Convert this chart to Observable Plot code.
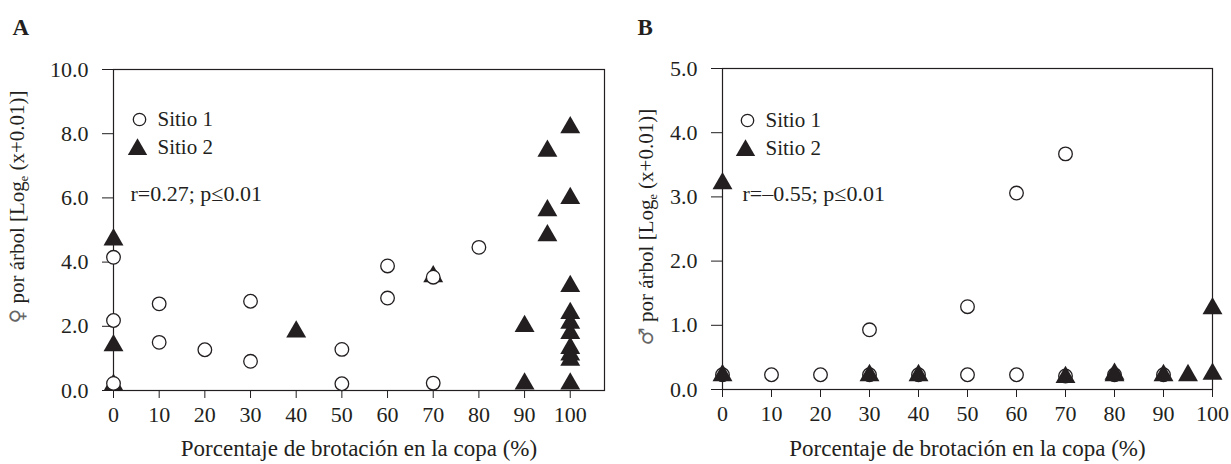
<!DOCTYPE html>
<html>
<head>
<meta charset="utf-8">
<script src="https://cdn.jsdelivr.net/npm/d3@7"></script>
<script src="https://cdn.jsdelivr.net/npm/@observablehq/plot@0.6"></script>
<style>
  html, body { margin: 0; padding: 0; background: #fff; }
  #wrap { position: relative; width: 1231px; height: 464px; overflow: hidden; }
  #wrap > div { position: absolute; top: 0; }
</style>
</head>
<body>
<div id="wrap"><div id="pa" style="left:0"></div><div id="pb" style="left:615px"></div></div>
<script>
// ---------- Data ----------
const xTicks = [0, 10, 20, 30, 40, 50, 60, 70, 80, 90, 100];
const yTicksA = [0, 2, 4, 6, 8, 10];
const yTicksB = [0, 1, 2, 3, 4, 5];

// Panel A: females per tree
const a1x = [0, 0, 0, 10, 10, 20, 30, 30, 50, 50, 60, 60, 70, 70, 80];
const a1y = [4.15, 2.18, 0.22, 2.70, 1.50, 1.27, 2.78, 0.91, 1.28, 0.21, 3.88, 2.88, 3.53, 0.23, 4.46];
const a2x = [0, 0, 0, 40, 70, 90, 90, 95, 95, 95, 100, 100, 100, 100, 100, 100, 100, 100, 100, 100];
const a2y = [4.70, 1.40, 0.17, 1.83, 3.55, 2.00, 0.21, 7.46, 5.61, 4.83, 8.19, 5.99, 3.25, 2.41, 2.10, 1.78, 1.32, 1.11, 0.95, 0.21];

// Panel B: males per tree
const b1x = [0, 10, 20, 30, 30, 40, 50, 50, 60, 60, 70, 70, 80, 90];
const b1y = [0.23, 0.23, 0.23, 0.93, 0.23, 0.23, 1.29, 0.23, 3.06, 0.23, 3.67, 0.21, 0.23, 0.23];
const b2x = [0, 0, 30, 40, 70, 80, 80, 90, 95, 100, 100];
const b2y = [3.21, 0.22, 0.22, 0.22, 0.19, 0.22, 0.24, 0.22, 0.22, 1.26, 0.24];

const seriesNames = ["Sitio 1", "Sitio 2"];
const xLabel = "Porcentaje de brotación en la copa (%)";
// y title parts: symbol, text, subscript, text
const yLabelA = ["♀", " por árbol [Log", "e", " (x+0.01)]"];
const yLabelB = ["♂", " por árbol [Log", "e", " (x+0.01)]"];
const statA = "r=0.27; p≤0.01";
const statB = "r=–0.55; p≤0.01";

// ---------- Drawing ----------
const ink = "#231f20";
const font = "'Liberation Serif', 'DejaVu Serif', serif";
const pts = (xs, ys) => xs.map((x, i) => ({x, y: ys[i]}));

function panel(o) {
  const s1 = Plot.dot(pts(o.s1x, o.s1y), {x: "x", y: "y", r: 6.8, fill: "white", stroke: ink, strokeWidth: 1.3});
  const s2 = Plot.dot(pts(o.s2x, o.s2y), {x: "x", y: "y", symbol: "triangle", r: 7.4, fill: ink, stroke: "none"});
  const points = o.circlesOnTop ? [s2, s1] : [s1, s2];
  const yTitle = o.yLabel.join("");
  const svg = Plot.plot({
    width: o.width, height: 464,
    marginLeft: o.ml, marginRight: o.mr, marginTop: o.mt, marginBottom: o.mb,
    style: {fontFamily: font, fontSize: "22px", color: ink, background: "transparent", overflow: "visible"},
    x: {domain: o.xDomain, ticks: xTicks, tickSize: 8, tickPadding: 8, tickFormat: d => String(d), label: null},
    y: {domain: o.yDomain, ticks: o.yTicks, tickSize: 11, tickPadding: 14, tickFormat: d => d.toFixed(1), label: null},
    marks: [
      Plot.frame({stroke: ink, strokeWidth: 1.2}),
      ...points,
      // legend
      Plot.dot([0], {frameAnchor: "top-left", dx: o.lx, dy: o.ly, r: 6.2, fill: "white", stroke: ink, strokeWidth: 1.3}),
      Plot.dot([0], {frameAnchor: "top-left", dx: o.lx - 2, dy: o.ly + 30, r: 7.2, symbol: "triangle", fill: ink}),
      Plot.text([seriesNames[0]], {text: d => d, frameAnchor: "top-left", dx: o.lx + 18, dy: o.ly, textAnchor: "start", lineAnchor: "middle", fontSize: 21, fill: ink}),
      Plot.text([seriesNames[1]], {text: d => d, frameAnchor: "top-left", dx: o.lx + 18, dy: o.ly + 28, textAnchor: "start", lineAnchor: "middle", fontSize: 21, fill: ink}),
      Plot.text([o.stat], {text: d => d, frameAnchor: "top-left", dx: o.sx, dy: o.sy, textAnchor: "start", lineAnchor: "middle", fontSize: 22, fill: ink}),
      // axis titles
      Plot.text([xLabel], {text: d => d, frameAnchor: "bottom", dy: o.xtDy, textAnchor: "middle", lineAnchor: "middle", fontSize: 23, fill: ink}),
      Plot.text([yTitle], {text: d => d, frameAnchor: "left", rotate: -90, dx: o.ytDx, dy: o.ytDy, textAnchor: "middle", lineAnchor: "middle", fontSize: 21, fill: ink}),
      // panel letter
      Plot.text([o.letter], {text: d => d, frameAnchor: "top-left", dx: o.pdx, dy: o.pdy, textAnchor: "start", lineAnchor: "middle", fontSize: 23, fontWeight: "bold", fill: ink})
    ]
  });
  // rich formatting of the y title: sex symbol and subscript "e"
  d3.select(svg).selectAll("text").filter(function () { return this.textContent === yTitle; }).each(function () {
    const t = d3.select(this);
    t.text(null);
    t.append("tspan").attr("font-family", "DejaVu Sans").attr("font-size", 20).attr("fill", "#666").text(o.yLabel[0]);
    t.append("tspan").text(o.yLabel[1]);
    t.append("tspan").attr("font-size", 12).attr("dy", 4).text(o.yLabel[2]);
    t.append("tspan").attr("dy", -4).text(o.yLabel[3]);
  });
  return svg;
}

document.getElementById("pa").append(panel({
  width: 615, ml: 113, mr: 11, mt: 69, mb: 74,
  xDomain: [0, 107.5], yDomain: [0, 10], yTicks: yTicksA,
  s1x: a1x, s1y: a1y, s2x: a2x, s2y: a2y, circlesOnTop: true,
  lx: 26, ly: 50, sx: 17, sy: 124, stat: statA,
  xtDy: 58, ytDx: -96, ytDy: -23, yLabel: yLabelA,
  letter: "A", pdx: -101, pdy: -42
}));

document.getElementById("pb").append(panel({
  width: 616, ml: 107, mr: 19, mt: 68, mb: 75,
  xDomain: [0, 100], yDomain: [0, 5], yTicks: yTicksB,
  s1x: b1x, s1y: b1y, s2x: b2x, s2y: b2y, circlesOnTop: false,
  lx: 25, ly: 52, sx: 20, sy: 125, stat: statB,
  xtDy: 59, ytDx: -76, ytDy: -2, yLabel: yLabelB,
  letter: "B", pdx: -85, pdy: -41
}));
</script>
</body>
</html>
